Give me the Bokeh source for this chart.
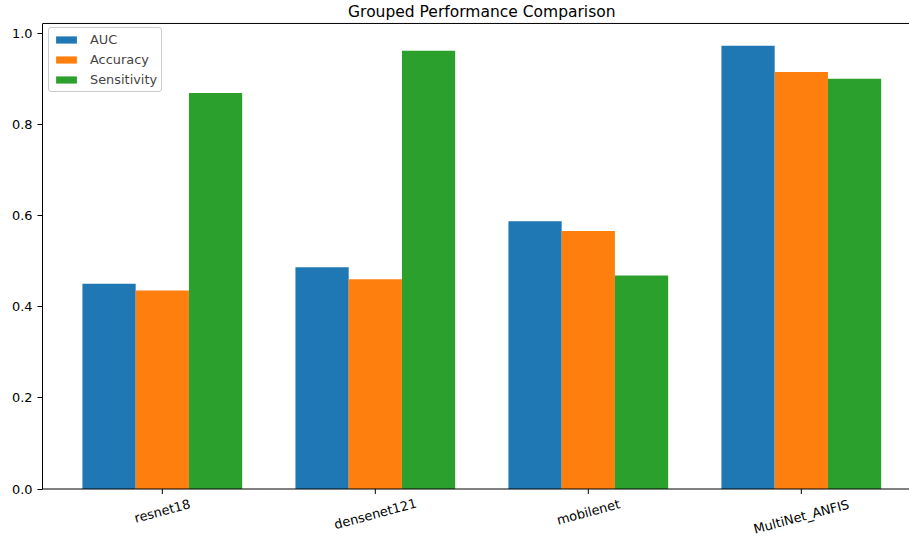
import math

from bokeh.core.properties import value
from bokeh.embed import file_html
from bokeh.models import (ColumnDataSource, FixedTicker, Label, Legend,
                          LegendItem, NumeralTickFormatter, Range1d, Span)
from bokeh.plotting import figure
from bokeh.resources import INLINE

# Scores per model
models = ["resnet18", "densenet121", "mobilenet", "MultiNet_ANFIS"]
auc = [0.451, 0.487, 0.588, 0.974]
accuracy = [0.436, 0.461, 0.567, 0.916]
sensitivity = [0.870, 0.963, 0.469, 0.901]

series_names = ["AUC", "Accuracy", "Sensitivity"]
series_values = [auc, accuracy, sensitivity]
series_colors = ["#1f77b4", "#ff7f0e", "#2ca02c"]
y_ticks = [0.0, 0.2, 0.4, 0.6, 0.8, 1.0]

bar_w = 0.25
xs = list(range(len(models)))

# Layout: the plotting frame fills the canvas right of the y axis so that the
# title and the rotated category labels can be drawn inside it.
W, H = 909, 540
LEFT = 42
ZERO_PX = 488.5          # canvas row of y = 0
PX_PER_UNIT = 455.2      # pixels per 1.0 on the y axis
y_top = 1.0227           # top of the axes box
y_lo = -(H - ZERO_PX) / PX_PER_UNIT
y_hi = ZERO_PX / PX_PER_UNIT

FONT = "DejaVu Sans"
FS = "12.9px"
rot = math.radians(15)

p = figure(width=W, height=H, output_backend="svg", toolbar_location=None,
           x_range=Range1d(-0.5625, 3.508), y_range=Range1d(y_lo, y_hi),
           x_axis_location=None,
           min_border_left=LEFT, min_border_right=0, min_border_top=0,
           min_border_bottom=0)

p.outline_line_color = None
p.grid.grid_line_color = None
p.background_fill_color = "white"

items = []
for i, (name, vals, col) in enumerate(zip(series_names, series_values, series_colors)):
    src = ColumnDataSource(dict(x=[x + (i - 1) * bar_w for x in xs], top=vals))
    r = p.vbar(x="x", top="top", bottom=0, width=bar_w, source=src,
               fill_color=col, line_color=None)
    items.append(LegendItem(label=name, renderers=[r]))

# top and bottom spines
p.add_layout(Span(location=y_top, dimension="width", line_color="black", line_width=1))
p.add_layout(Span(location=0, dimension="width", line_color="black", line_width=1))

# x tick marks
tick_len = 5 / PX_PER_UNIT
p.segment(x0=xs, y0=[0] * len(xs), x1=xs, y1=[-tick_len] * len(xs),
          line_color="black", line_width=1)

# rotated category labels, top of each rotated label box ~10px under the axis
label_y = []
for m in models:
    w = 7.3 * len(m)
    cy = 503 + 0.129 * w
    label_y.append((ZERO_PX - cy) / PX_PER_UNIT)
lab_src = ColumnDataSource(dict(x=xs, y=label_y, text=models))
p.text(x="x", y="y", text="text", source=lab_src, angle=rot,
       text_font=value(FONT), text_font_size=value(FS), text_color="black",
       text_align="center", text_baseline="middle")

# title centred over the axes box
p.add_layout(Label(x=1.5, y=(ZERO_PX - 11) / PX_PER_UNIT,
                   text="Grouped Performance Comparison",
                   text_font=FONT, text_font_size="15.5px", text_color="black",
                   text_align="center", text_baseline="alphabetic"))

legend = Legend(items=items, location=(6, H - 92), label_text_font=FONT,
                label_text_font_size=FS, glyph_width=26, glyph_height=9,
                label_height=14, spacing=5, padding=4, margin=0,
                label_standoff=11, border_line_color="#cccccc",
                border_line_alpha=1, background_fill_alpha=0.8,
                border_radius=3)
p.add_layout(legend)

ax = p.yaxis[0]
ax.bounds = (0, y_top)
ax.ticker = FixedTicker(ticks=y_ticks)
ax.formatter = NumeralTickFormatter(format="0.0")
ax.axis_line_color = "black"
ax.axis_line_width = 1
ax.major_tick_line_color = "black"
ax.major_tick_out = 5
ax.major_tick_in = 0
ax.minor_tick_line_color = None
ax.major_label_text_font = FONT
ax.major_label_text_font_size = FS
ax.major_label_text_color = "black"
ax.major_label_standoff = 5

open("out.html", "w").write(file_html(p, INLINE))
